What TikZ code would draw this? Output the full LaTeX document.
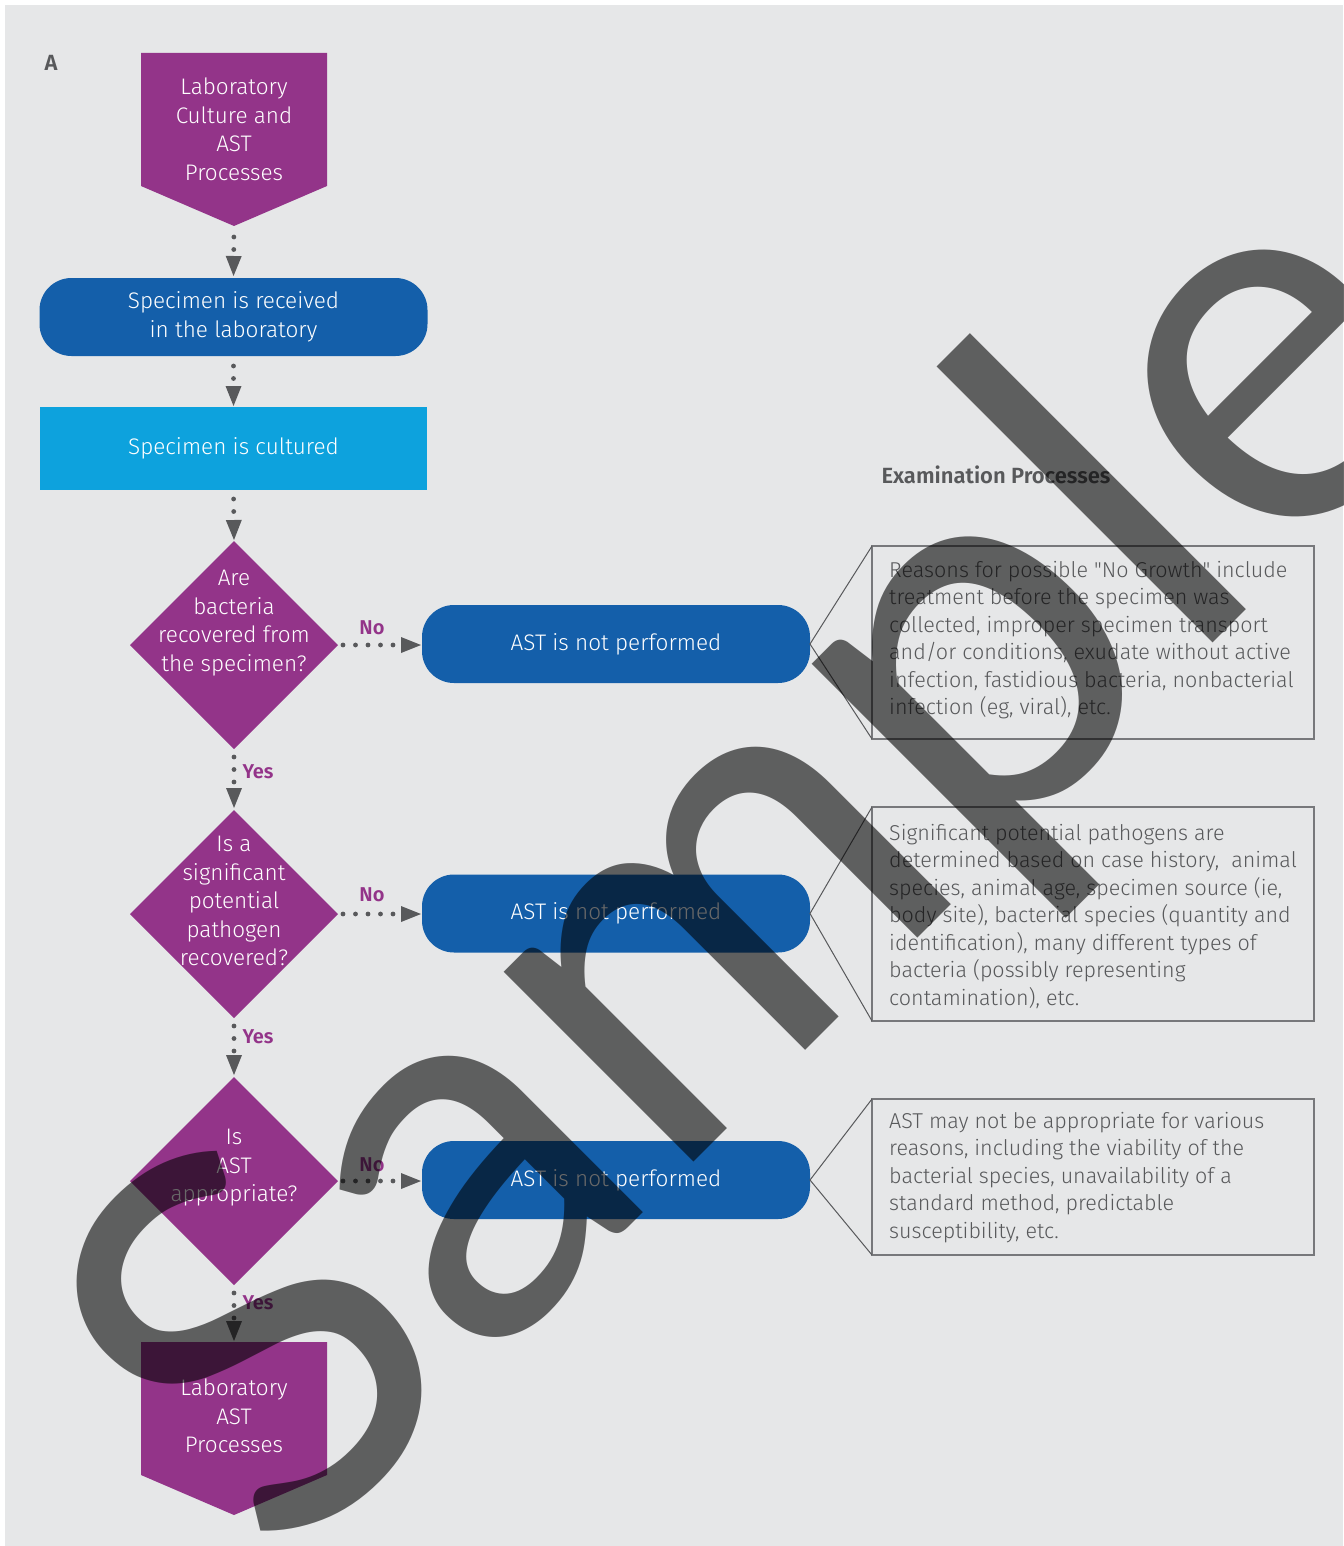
\documentclass[tikz,border=0pt]{standalone}
\usepackage{fontspec}
\setmainfont{Fira Sans}[UprightFont={* Light},BoldFont={* SemiBold}]
\newfontfamily\plainq{Fira Sans}[UprightFont={* Light}]
\newfontfamily\wmfont{Lato}
\usetikzlibrary{shapes.geometric,arrows.meta}
\definecolor{bgc}{HTML}{E6E7E8}
\definecolor{purp}{HTML}{933489}
\definecolor{dblue}{HTML}{145FAA}
\definecolor{cyanb}{HTML}{0DA2DD}
\definecolor{dgrey}{HTML}{58595B}
\definecolor{boxgrey}{HTML}{77787B}
\begin{document}
\begin{tikzpicture}[x=1pt,y=-1pt,
  txt/.style={text=white,align=center,inner sep=0pt,font=\fontsize{22.5}{28.5}\selectfont},
  rbox/.style={fill=dblue,rounded corners=32pt,minimum width=388pt,minimum height=78pt,inner sep=0pt,outer sep=0pt,txt},
  dia/.style={shape=diamond,fill=purp,minimum width=208pt,minimum height=208pt,inner sep=0pt,outer sep=0pt},
  conn/.style={draw=dgrey,line width=4.8pt,line cap=round,dash pattern=on 0pt off 12.5pt,-{Triangle[length=20pt,width=16pt,line width=0pt]}},
  yn/.style={text=purp,inner sep=0pt,font=\fontsize{20}{24}\selectfont\bfseries},
  cbox/.style={draw=boxgrey,line width=1.4pt,minimum width=442pt,inner sep=0pt,outer sep=0pt},
  cline/.style={draw=dgrey,line width=1pt},
  ctxt/.style={text=dgrey,align=left,anchor=north west,inner sep=0pt,font=\fontsize{21.5}{27.5}\selectfont}
]
\useasboundingbox (0,0) rectangle (1343,1546);
\fill[white] (0,0) rectangle (1343,1546);
\fill[bgc] (5,5) rectangle (1343,1546);

\node[text=dgrey,inner sep=0pt,font=\fontsize{22}{26}\selectfont\bfseries] (lblA) at (51,63) {A};
\node[text=dgrey,inner sep=0pt,font=\fontsize{22}{26}\selectfont\bfseries] (exam) at (996,475) {Examination Processes};

% top pentagon
\fill[purp] (141,53) -- (327,53) -- (327,186) -- (234,226) -- (141,186) -- cycle;
\node[txt] (p1) at (234,129.5) {Laboratory\\Culture and\\AST\\Processes};
\coordinate (p1tip) at (234,226);

\node[rbox] (recv) at (233.5,317) {Specimen is received\\in the laboratory};
\node[fill=cyanb,minimum width=387pt,minimum height=83pt,inner sep=0pt,outer sep=0pt,txt] (cult) at (233.5,448.5) {Specimen is cultured};

\node[dia] (d1) at (234,645) {};
\node[txt] (d1t) at (234,623) {Are\\bacteria\\recovered from\\the specimen?};
\node[dia] (d2) at (234,914) {};
\node[txt] (d2t) at (234,901) {Is a\\significant\\potential\\pathogen\\recovered?};
\node[dia] (d3) at (234,1181) {};
\node[txt] (d3t) at (234,1168) {Is\\AST\\appropriate?};

% bottom pentagon
\fill[purp] (141,1342) -- (327,1342) -- (327,1475) -- (234,1515) -- (141,1475) -- cycle;
\node[txt] (p2) at (234,1416) {Laboratory\\AST\\Processes};
\coordinate (p2top) at (234,1342);

\node[rbox] (b1) at (616,644) {AST is not performed};
\node[rbox] (b2) at (616,913.5) {AST is not performed};
\node[rbox] (b3) at (616,1180) {AST is not performed};

% connectors
\draw[conn,shorten <=11pt,shorten >=2pt] (p1tip) -- (recv.north);
\draw[conn,shorten <=10pt,shorten >=1pt] (recv.south) -- (cult.north);
\draw[conn,shorten <=9pt,shorten >=1pt] (cult.south) -- (d1.north);
\draw[conn,shorten <=8pt,shorten >=2pt] (d1.south) -- (d2.north);
\draw[conn,shorten <=8pt,shorten >=2pt] (d2.south) -- (d3.north);
\draw[conn,shorten <=8pt,shorten >=1pt] (d3.south) -- (p2top);
\draw[conn,shorten <=5pt,shorten >=1pt] (d1.east) -- (d1.east -| b1.west);
\draw[conn,shorten <=5pt,shorten >=1pt] (d2.east) -- (d2.east -| b2.west);
\draw[conn,shorten <=5pt,shorten >=1pt] (d3.east) -- (d3.east -| b3.west);

\node[yn] (no1) at (372,628) {No};
\node[yn] (no2) at (372,895) {No};
\node[yn] (no3) at (372,1165) {No};
\node[yn] (yes1) at (258,772) {Yes};
\node[yn] (yes2) at (258,1037) {Yes};
\node[yn] (yes3) at (258,1303) {Yes};

% callouts
\node[cbox,minimum height=193pt] (c1) at (1093,642.5) {};
\node[cbox,minimum height=214pt] (c2) at (1093,914) {};
\node[cbox,minimum height=156pt] (c3) at (1093,1177) {};
\draw[cline] (c1.north west) -- (b1.east) -- (c1.south west);
\draw[cline] (c2.north west) -- (b2.east) -- (c2.south west);
\draw[cline] (c3.north west) -- (b3.east) -- (c3.south west);

\node[ctxt] (c1t) at (889,561) {Reasons for possible {\plainq"}No Growth{\plainq"} include\\treatment before the specimen was\\collected, improper specimen transport\\and/or conditions, exudate without active\\infection, fastidious bacteria, nonbacterial\\infection (eg, viral), etc.};
\node[ctxt] (c2t) at (889,824) {Significant potential pathogens are\\determined based on case history,~ animal\\species, animal age, specimen source (ie,\\body site), bacterial species (quantity and\\identification), many different types of\\bacteria (possibly representing\\contamination), etc.};
\node[ctxt] (c3t) at (889,1112) {AST may not be appropriate for various\\reasons, including the viability of the\\bacterial species, unavailability of a\\standard method, predictable\\susceptibility, etc.};

% watermark
\begin{scope}
\clip (5,5) rectangle (1343,1546);
\node[rotate=45,anchor=base west,inner sep=0pt,text=black,text opacity=0.59,font=\fontsize{530}{530}\selectfont\wmfont] (wm) at (280,1576) {Sample};
\end{scope}
\end{tikzpicture}
\end{document}
